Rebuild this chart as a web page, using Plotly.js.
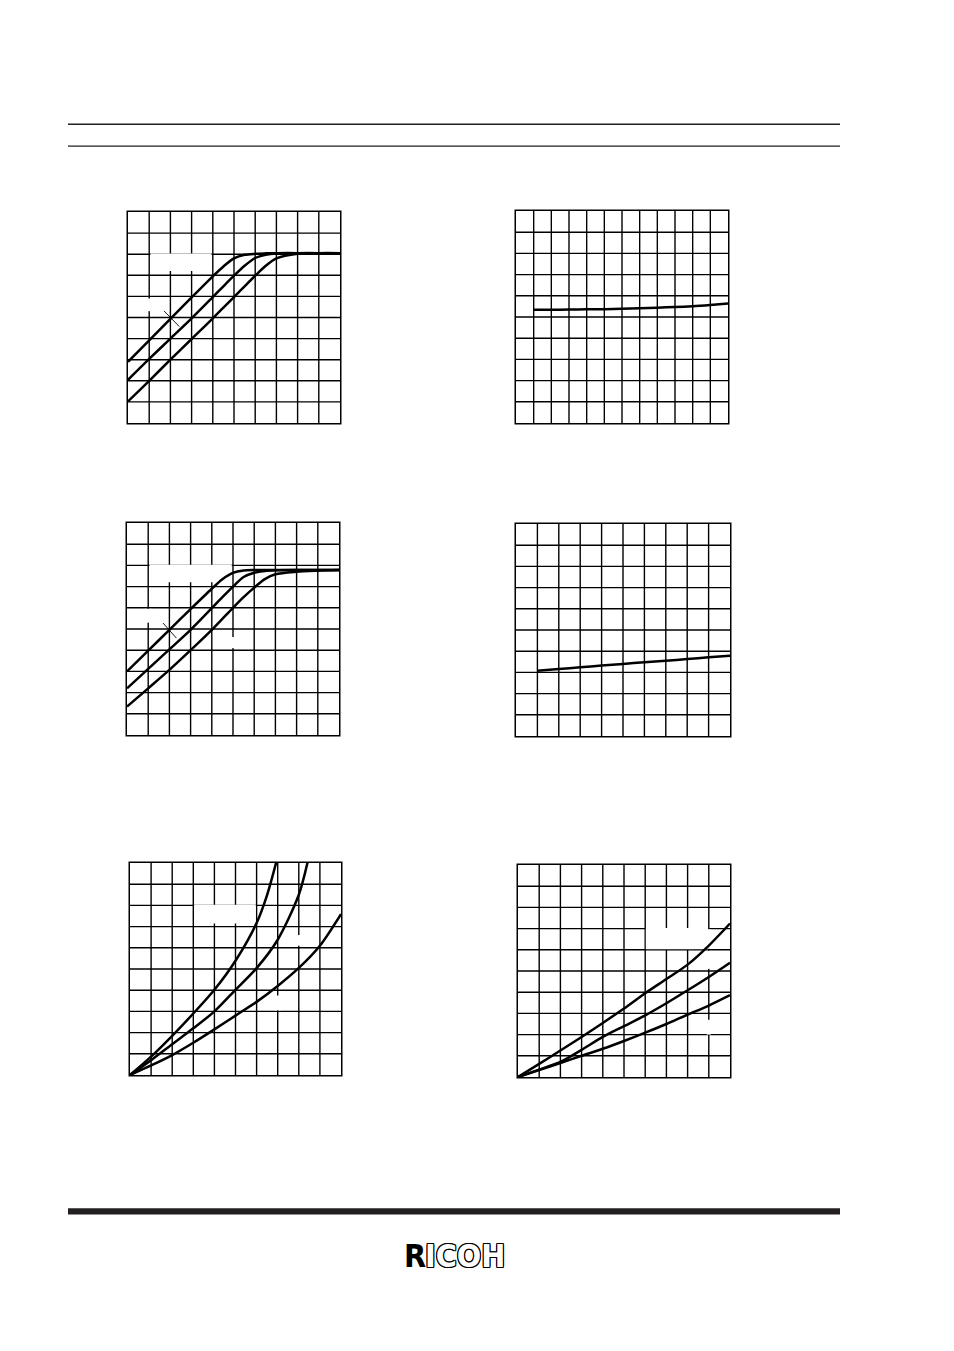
<!DOCTYPE html>
<html>
<head>
<meta charset="utf-8">
<script src="https://cdn.plot.ly/plotly-3.0.1.min.js"></script>
<style>
html,body{margin:0;padding:0;background:#fff}
#chart{width:954px;height:1351px}
.js-plotly-plot .plotly .crisp{shape-rendering:auto !important}
</style>
</head>
<body>
<div id="chart"></div>
<script>
// ---------- data ----------
// Panel 1 (top-left): three saturating curves
const p1X = [0, 1, 2, 3, 4, 4.5, 5, 5.5, 6, 6.5, 7, 8, 9, 10];
const p1A = [2.9, 3.92, 4.93, 5.95, 6.95, 7.42, 7.8, 7.97, 8.02, 8.04, 8.05, 8.05, 8.05, 8.05];
const p1B = [2.05, 3.04, 4.0, 4.96, 5.97, 6.48, 6.98, 7.45, 7.82, 7.97, 8.03, 8.05, 8.05, 8.05];
const p1C = [1.02, 2.0, 3.0, 3.98, 4.96, 5.47, 5.97, 6.48, 6.98, 7.45, 7.8, 8.02, 8.05, 8.05];
const p1MarkX = [1.7, 2.42];
const p1MarkY = [5.31, 4.57];

// Panel 2 (top-right): nearly flat line
const p2X = [1, 2, 3, 4, 5, 6, 7, 8, 9, 10, 11, 12];
const p2Y = [5.34, 5.34, 5.35, 5.36, 5.37, 5.39, 5.41, 5.44, 5.47, 5.51, 5.57, 5.64];

// Panel 3 (middle-left): three saturating curves
const p3X = [0, 1, 2, 3, 4, 4.5, 5, 5.5, 6, 6.5, 7, 8, 9, 10];
const p3A = [3.0, 3.98, 4.96, 5.94, 6.9, 7.35, 7.65, 7.76, 7.78, 7.78, 7.78, 7.78, 7.78, 7.78];
const p3B = [2.2, 3.12, 4.04, 4.96, 5.98, 6.5, 7.0, 7.45, 7.65, 7.74, 7.77, 7.78, 7.78, 7.78];
const p3C = [1.34, 2.2, 3.07, 4.0, 4.96, 5.48, 6.0, 6.5, 6.95, 7.35, 7.58, 7.7, 7.75, 7.78];
const p3MarkX = [1.7, 2.33];
const p3MarkY = [5.28, 4.57];

// Panel 4 (middle-right): slowly rising line
const p4X = [1, 2, 3, 4, 5, 6, 7, 8, 9, 10];
const p4Y = [3.08, 3.16, 3.24, 3.32, 3.40, 3.48, 3.55, 3.63, 3.71, 3.79];

// Panel 5 (bottom-left): three rising curves from the origin
const p5AX = [0, 1, 2, 3, 4, 5, 6, 6.5, 7];
const p5AY = [0, 0.87, 1.85, 2.9, 4.02, 5.39, 7.17, 8.5, 10.3];
const p5BX = [0, 1, 2, 3, 4, 5, 6, 7, 8, 8.5];
const p5BY = [0, 0.7, 1.45, 2.2, 3.0, 4.02, 5.04, 6.38, 8.5, 10.4];
const p5CX = [0, 1, 2, 3, 4, 5, 6, 7, 8, 9, 10];
const p5CY = [0, 0.45, 0.94, 1.52, 2.15, 2.8, 3.45, 4.2, 5.05, 6.1, 7.59];

// Panel 6 (bottom-right): three rising curves from the origin
const p6X = [0, 1, 2, 3, 4, 5, 6, 7, 8, 9, 10];
const p6A = [0, 0.62, 1.25, 1.89, 2.55, 3.23, 3.95, 4.62, 5.3, 6.2, 7.24];
const p6B = [0, 0.35, 0.71, 1.28, 1.89, 2.4, 2.91, 3.48, 4.09, 4.72, 5.39];
const p6C = [0, 0.33, 0.66, 1.0, 1.33, 1.7, 2.09, 2.5, 2.94, 3.37, 3.86];

// ---------- layout helpers ----------
const W = 954, H = 1351;
const panels = [
  {x0: 128, x1: 340, y0: 212, y1: 423, nx: 10, ny: 10},
  {x0: 516, x1: 728, y0: 211, y1: 423, nx: 12, ny: 10},
  {x0: 127, x1: 339, y0: 523, y1: 735, nx: 10, ny: 10},
  {x0: 516, x1: 730, y0: 524, y1: 736, nx: 10, ny: 10},
  {x0: 130, x1: 341, y0: 863, y1: 1075, nx: 10, ny: 10},
  {x0: 518, x1: 730, y0: 865, y1: 1077, nx: 10, ny: 10}
];

const layout = {
  width: W, height: H,
  margin: {l: 0, r: 0, t: 0, b: 0},
  paper_bgcolor: '#ffffff', plot_bgcolor: '#ffffff',
  showlegend: false,
  shapes: [], annotations: []
};

function axis(dom, n, anchor) {
  return {
    domain: dom, range: [0, n], dtick: 1, tick0: 0,
    showgrid: true, gridcolor: '#000', gridwidth: 1.4,
    showline: true, linecolor: '#000', linewidth: 1.5, mirror: true,
    zeroline: false, showticklabels: false, ticks: '',
    fixedrange: true, anchor: anchor
  };
}

panels.forEach((p, i) => {
  const k = i === 0 ? '' : String(i + 1);
  layout['xaxis' + k] = axis([p.x0 / W, p.x1 / W], p.nx, 'y' + k);
  layout['yaxis' + k] = axis([1 - p.y1 / H, 1 - p.y0 / H], p.ny, 'x' + k);
});

// white gaps in the grid (where labels were removed)
function gap(i, x0, x1, y0, y1) {
  const k = i === 0 ? '' : String(i + 1);
  layout.shapes.push({type: 'rect', xref: 'x' + k, yref: 'y' + k, x0, x1, y0, y1,
    fillcolor: '#fff', line: {width: 0}, layer: 'between'});
}
gap(0, 1.06, 3.94, 7.2, 8.03);
gap(0, 0.8, 1.2, 5.3, 5.9);
gap(2, 1.06, 4.94, 7.2, 8.03);
gap(2, 0.8, 1.2, 5.3, 5.95);
gap(2, 4.8, 5.2, 4.1, 4.62);
gap(4, 3.04, 5.96, 7.15, 8.03);
gap(4, 6.85, 7.15, 3.05, 3.75);
gap(4, 7.9, 8.1, 6.1, 6.6);
gap(5, 6.03, 8.97, 6.03, 7.03);
gap(5, 8.9, 9.1, 5.1, 5.95);
gap(5, 8.9, 9.1, 6.05, 6.97);
gap(5, 8.9, 9.1, 2.0, 2.7);

// page rules
function hline(y0, y1, fill) {
  layout.shapes.push({type: 'rect', xref: 'paper', yref: 'paper',
    x0: 68 / W, x1: 840 / W, y0: 1 - y1 / H, y1: 1 - y0 / H,
    fillcolor: fill, line: {width: 0}, layer: 'above'});
}
hline(123.6, 124.9, '#231f20');
hline(145.4, 146.7, '#231f20');
hline(1208.2, 1214.6, '#231f20');

// RICOH logo
const logoFont = 'Liberation Sans Narrow, DejaVu Sans Condensed, Arial Narrow, sans-serif';
layout.annotations.push({
  xref: 'paper', yref: 'paper', x: 428 / W, y: 1 - 1256 / H,
  xanchor: 'right', yanchor: 'middle', showarrow: false, text: 'R',
  font: {family: logoFont, size: 32, color: '#000', weight: 700}
});
layout.annotations.push({
  xref: 'paper', yref: 'paper', x: 423 / W, y: 1 - 1256 / H,
  xanchor: 'left', yanchor: 'middle', showarrow: false, text: 'ICOH',
  font: {family: logoFont, size: 32, color: '#fff', weight: 700,
    shadow: '1px 0 0 #000, -1px 0 0 #000, 0 1px 0 #000, 0 -1px 0 #000, 1px 1px 0 #000, -1px -1px 0 #000, 1px -1px 0 #000, -1px 1px 0 #000'}
});

// ---------- traces ----------
function curve(i, xs, ys, w) {
  const k = i === 0 ? '' : String(i + 1);
  return {type: 'scatter', mode: 'lines', x: xs, y: ys, xaxis: 'x' + k, yaxis: 'y' + k,
    line: {color: '#000', width: w || 2.5, shape: 'spline', smoothing: 0.8},
    hoverinfo: 'skip'};
}
function seg(i, xs, ys) {
  const k = i === 0 ? '' : String(i + 1);
  return {type: 'scatter', mode: 'lines', x: xs, y: ys, xaxis: 'x' + k, yaxis: 'y' + k,
    line: {color: '#000', width: 0.9}, hoverinfo: 'skip'};
}

const data = [
  curve(0, p1X, p1A), curve(0, p1X, p1B), curve(0, p1X, p1C), seg(0, p1MarkX, p1MarkY),
  curve(1, p2X, p2Y),
  curve(2, p3X, p3A), curve(2, p3X, p3B), curve(2, p3X, p3C), seg(2, p3MarkX, p3MarkY),
  curve(3, p4X, p4Y),
  curve(4, p5AX, p5AY), curve(4, p5BX, p5BY), curve(4, p5CX, p5CY),
  curve(5, p6X, p6A), curve(5, p6X, p6B), curve(5, p6X, p6C)
];

Plotly.newPlot('chart', data, layout, {displayModeBar: false, staticPlot: true});
</script>
</body>
</html>
